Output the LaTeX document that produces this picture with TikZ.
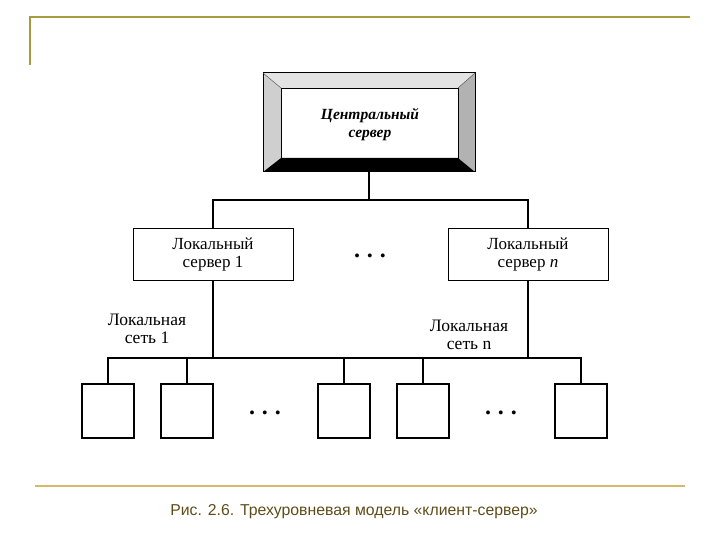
\documentclass[tikz,border=0pt]{standalone}
\usepackage{fontspec}
\setmainfont{Liberation Serif}
\newfontfamily\capfont{Liberation Sans}
\usepackage{xcolor}
\usepackage{tikz}
\usetikzlibrary{calc}

\definecolor{frameGold}{HTML}{A89A3E}
\definecolor{ruleGold}{HTML}{D6B868}
\definecolor{capBrown}{HTML}{5E4C18}

\tikzset{
  srvbox/.style={draw,line width=0.9pt,minimum width=160pt,minimum height=52pt,
    align=center,font=\fontsize{17}{18}\selectfont},
  client/.style={draw,line width=1.1pt,minimum width=52pt,minimum height=54pt},
  bus/.style={line width=1.4pt},
  netlabel/.style={align=center,font=\fontsize{17.5}{18}\selectfont},
  dotsnode/.style={font=\fontsize{24}{24}\selectfont\bfseries}
}

\begin{document}
\begin{tikzpicture}[x=1pt,y=-1pt]
  \useasboundingbox (0,0) rectangle (720,540);

  % slide frame
  \draw[frameGold,line width=1.6pt] (30,65) -- (30,17) -- (690,17);
  \draw[ruleGold,line width=2.2pt] (35,486) -- (685,486);
  \node[capBrown,font=\capfont\fontsize{15.8}{18}\selectfont] (caption) at (354,512)
    {Рис. 2.6. Трехуровневая модель «клиент-сервер»};

  % central server with bevelled frame
  \coordinate (O1) at (263,73);
  \coordinate (O2) at (475,73);
  \coordinate (O3) at (475,172);
  \coordinate (O4) at (263,172);
  \coordinate (I1) at (281,88);
  \coordinate (I2) at (458,88);
  \coordinate (I3) at (458,158);
  \coordinate (I4) at (281,158);

  \fill[gray!22] (O1) -- (O2) -- (I2) -- (I1) -- cycle;
  \fill[gray!38] (O1) -- (I1) -- (I4) -- (O4) -- cycle;
  \fill[gray!60] (O2) -- (O3) -- (I3) -- (I2) -- cycle;
  \fill[black]   (O4) -- (I4) -- (I3) -- (O3) -- cycle;
  \draw[line width=1pt] (O1) rectangle (O3);
  \draw[line width=0.8pt] (I1) rectangle (I3);
  \draw[line width=0.5pt,gray!70!black] (O1) -- (I1) (O2) -- (I2);

  \node[minimum width=212pt,minimum height=99pt,align=center,
    font=\fontsize{15.5}{18}\selectfont\bfseries\itshape] (central) at (369,122.5) {};
  \node[align=center,font=\fontsize{15.5}{18}\selectfont\bfseries\itshape]
    (ctext) at (370,125) {Центральный\\сервер};

  % local servers
  \node[srvbox] (ls1) at (213,254) {Локальный\\сервер 1};
  \node[srvbox] (lsn) at (528,254) {Локальный\\сервер \textit{n}};
  \node[dotsnode] (sdots) at (370,256) {.\hspace{7pt}.\hspace{7pt}.};

  % clients
  \node[client] (c1) at (108,411) {};
  \node[client] (c2) at (187,411) {};
  \node[client] (c3) at (344,411) {};
  \node[client] (c4) at (423,411) {};
  \node[client] (c5) at (581,411) {};
  \node[dotsnode] (cdots1) at (265,413) {.\hspace{7pt}.\hspace{7pt}.};
  \node[dotsnode] (cdots2) at (501,413) {.\hspace{7pt}.\hspace{7pt}.};

  % network labels
  \node[netlabel] (net1) at (147,329) {Локальная\\сеть 1};
  \node[netlabel] (netn) at (469,335) {Локальная\\сеть n};

  % buses
  \coordinate (tbus) at (369,200);
  \coordinate (lbus) at (0,358);

  \draw[bus] (central.south) -- (tbus);
  \draw[bus] (ls1.north) |- (tbus) -| (lsn.north);

  \draw[bus] (ls1.south) -- (ls1.south |- lbus);
  \draw[bus] (lsn.south) -- (lsn.south |- lbus);
  \draw[line width=1.1pt] (c1.north) |- (lbus -| c3.north) -| (c5.north);
  \draw[line width=1.1pt] (c2.north) -- (c2.north |- lbus);
  \draw[line width=1.1pt] (c3.north) -- (c3.north |- lbus);
  \draw[line width=1.1pt] (c4.north) -- (c4.north |- lbus);
\end{tikzpicture}
\end{document}
